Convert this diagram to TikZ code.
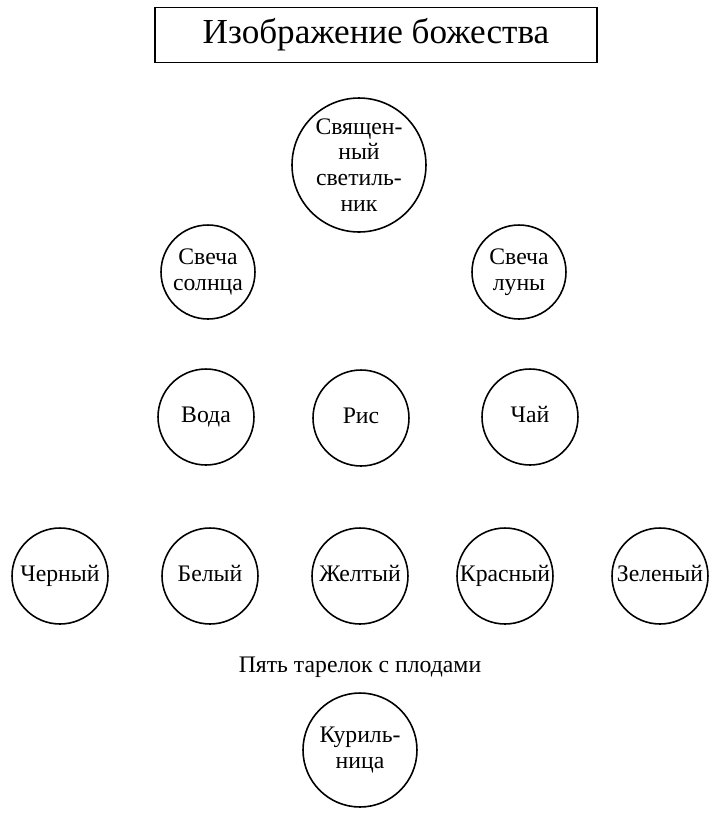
\documentclass[tikz,border=0pt]{standalone}
\usepackage{fontspec}
\setmainfont{Liberation Serif}

\begin{document}
\begin{tikzpicture}[x=0.02cm, y=-0.02cm,
	every node/.style={align=center, inner sep=0pt, font=\fontsize{13.5}{14.7}\selectfont},
	dish/.style={draw, circle, line width=0.9pt, minimum size=1.92cm},
	word/.style={dish, text height=0.75em, text depth=0.15em},
	small/.style={dish, minimum size=1.88cm}]

	\useasboundingbox (0,0) rectangle (715,816);

	\node[draw, line width=0.9pt, minimum width=8.84cm, minimum height=1.1cm,
		font=\fontsize{20}{22}\selectfont] (title) at (376,35) {Изображение божества};

	\node[dish, minimum size=2.68cm] (lamp) at (359,165) {Священ-\\ный\\светиль-\\ник};

	\node[small] (sun) at (208,272) {Свеча\\солнца};
	\node[small] (moon) at (519,272) {Свеча\\луны};

	\node[word] (water) at (206,417) {Вода};
	\node[word] (rice) at (361,418) {Рис};
	\node[word] (tea) at (530,417) {Чай};

	\node[word] (black) at (60,576) {Черный};
	\node[word] (white) at (210,576) {Белый};
	\node[word] (yellow) at (360,576) {Желтый};
	\node[word] (red) at (505,576) {Красный};
	\node[word] (green) at (660,576) {Зеленый};

	\node (plates) at (360,667) {Пять тарелок с плодами};

	\node[dish, minimum size=2.28cm] (censer) at (360,750) {Куриль-\\ница};

\end{tikzpicture}
\end{document}
